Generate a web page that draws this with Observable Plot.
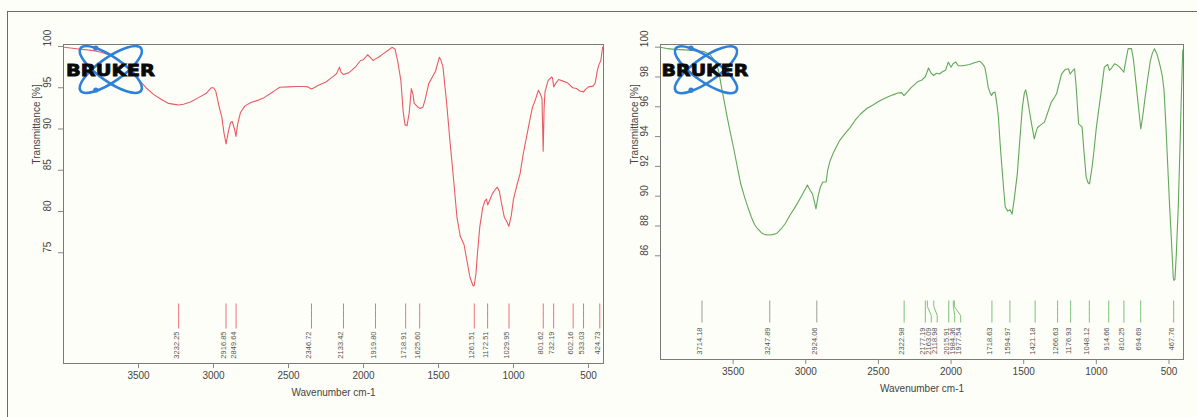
<!DOCTYPE html>
<html><head><meta charset="utf-8">
<script src="https://cdn.jsdelivr.net/npm/d3@7"></script>
<script src="https://cdn.jsdelivr.net/npm/@observablehq/plot@0.6"></script>
<style>
html,body{margin:0;padding:0;background:#fefef8;}
#page{position:relative;width:1197px;height:417px;overflow:hidden;background:#fefef8;font-family:"Liberation Sans",Arial,sans-serif;}
#border{position:absolute;left:7px;top:11px;width:1200px;height:420px;border-top:1px solid #6b6b6b;border-left:1px solid #6b6b6b;}
#left{position:absolute;left:0;top:0;}
#right{position:absolute;left:620px;top:0;}
#logos{position:absolute;left:0;top:0;pointer-events:none;}
</style></head><body>
<div id="page"><div id="border"></div><div id="left"></div><div id="right"></div>
<svg id="logos" width="1197" height="417"></svg></div>
<script>
// ---------- data ----------
const xTicks = [3500, 3000, 2500, 2000, 1500, 1000, 500];
const leftYTicks = [75, 80, 85, 90, 95, 100];
const rightYTicks = [86, 88, 90, 92, 94, 96, 98, 100];
const xLabel = "Wavenumber cm-1";
const yLabel = "Transmittance [%]";

const leftWavenumber = [3995,3900,3800,3750,3700,3650,3600,3550,3500,3450,3400,3350,3300,3250,3232,3200,3150,3100,3050,3014,3000,2985,2960,2945,2930,2916,2900,2886,2875,2860,2850,2840,2820,2790,2750,2700,2663,2620,2580,2558,2500,2450,2400,2370,2347,2330,2300,2250,2200,2180,2160,2150,2133,2100,2079,2050,2020,2000,1973,1950,1935,1920,1900,1870,1830,1810,1790,1770,1751,1735,1723,1710,1695,1681,1670,1662,1640,1625,1605,1590,1565,1541,1520,1494,1485,1470,1445,1424,1400,1377,1355,1330,1310,1290,1270,1262,1250,1240,1225,1205,1190,1180,1172,1160,1140,1120,1108,1095,1080,1061,1045,1031,1015,1000,980,956,935,909,890,874,855,834,820,810,802,796,790,769,745,740,732,720,699,670,640,605,580,558,533,520,500,470,455,441,430,418,406,400];
const leftTransmittance = [99.9,99.7,99.5,99.3,99.0,98.6,97.9,97.0,96.0,95.0,94.2,93.6,93.1,92.95,92.9,93.0,93.3,93.8,94.3,95.0,95.0,94.6,92.5,91.5,89.5,88.2,89.8,90.8,90.9,90.0,89.1,90.5,92.0,92.8,93.2,93.5,93.8,94.3,94.8,95.05,95.1,95.15,95.15,95.1,94.85,95.0,95.3,95.7,96.4,96.7,97.5,96.9,96.6,96.8,97.1,97.6,98.3,98.4,99.0,98.6,98.3,98.5,98.7,99.1,99.6,99.9,99.7,98.0,95.9,92.0,90.5,90.4,92.0,94.9,94.2,93.1,92.7,92.5,92.6,93.5,95.5,96.3,97.0,98.7,98.4,97.5,93.0,88.6,84.0,79.3,77.0,76.0,74.0,72.0,71.0,71.0,72.5,75.0,78.1,80.5,81.3,81.5,80.8,81.3,82.2,82.7,82.95,82.5,81.0,79.3,78.8,78.2,79.5,81.5,83.0,84.6,87.0,89.4,91.2,92.6,93.5,94.7,94.2,93.7,87.3,92.5,94.5,95.9,96.3,96.2,95.1,95.5,96.0,95.8,95.6,95.0,94.9,94.6,94.5,94.8,95.1,95.2,95.6,97.1,97.8,98.3,99.9,100.0];

const rightWavenumber = [4000,3950,3900,3800,3700,3658,3620,3600,3576,3560,3541,3520,3494,3470,3447,3420,3400,3375,3353,3330,3306,3280,3259,3230,3200,3170,3142,3110,3071,3030,2989,2970,2954,2940,2930,2915,2900,2883,2860,2850,2835,2813,2790,2766,2730,2695,2660,2625,2578,2540,2508,2470,2437,2400,2367,2340,2324,2300,2273,2250,2226,2200,2179,2170,2155,2140,2120,2100,2080,2060,2038,2019,2000,1985,1967,1950,1920,1873,1840,1803,1785,1768,1755,1744,1730,1721,1710,1697,1685,1674,1662,1650,1638,1627,1610,1595,1580,1565,1544,1525,1509,1496,1486,1475,1462,1445,1427,1415,1404,1380,1357,1335,1310,1290,1274,1260,1239,1215,1192,1180,1165,1150,1140,1122,1098,1085,1070,1057,1047,1030,1016,1000,981,960,945,922,910,895,875,857,840,825,811,795,781,758,745,735,722,708,694,680,664,645,628,614,600,585,570,555,545,534,520,511,497,483,470,466,459,450,436,425,417,410,405];
const rightTransmittance = [100.0,99.9,99.85,99.8,99.7,99.5,99.0,98.4,97.1,96.3,95.3,94.3,93.1,91.9,90.8,89.9,89.3,88.6,88.1,87.8,87.55,87.42,87.4,87.42,87.5,87.8,88.15,88.7,89.3,90.0,90.75,90.4,90.15,89.6,89.15,90.0,90.6,90.95,90.95,91.7,92.3,92.85,93.3,93.75,94.2,94.6,95.1,95.5,95.9,96.1,96.3,96.5,96.65,96.8,96.92,96.95,96.75,97.0,97.3,97.5,97.7,97.8,98.0,98.2,98.6,98.3,98.1,98.25,98.2,98.35,98.45,99.0,98.65,98.9,99.0,98.75,98.75,98.84,98.95,99.06,98.9,98.66,98.0,97.3,96.9,96.76,96.95,96.98,96.2,95.3,93.5,91.95,90.5,89.27,89.0,89.1,88.8,89.8,91.5,94.0,95.98,96.9,97.14,96.6,95.8,94.8,93.85,94.3,94.63,94.8,94.97,95.6,96.31,96.6,96.87,97.4,98.21,98.5,98.55,98.2,98.4,98.55,97.5,94.86,94.63,93.0,91.28,90.9,90.83,91.9,93.07,94.6,95.98,97.5,98.66,98.84,98.44,98.6,98.88,98.8,98.66,98.5,98.32,99.2,99.9,99.9,99.2,98.3,97.1,95.8,94.52,95.4,96.65,98.0,99.1,99.6,99.9,99.6,99.1,98.5,98.0,97.1,94.5,92.6,89.6,87.0,84.5,84.35,84.4,86.0,89.3,93.0,96.0,98.3,99.8];

const leftPeakLabels = ["3232.25","2916.85","2849.64","2346.72","2133.42","1919.80","1718.91","1625.60","1261.51","1172.51","1029.95","801.62","732.19","602.16","533.03","424.73"];
const rightPeakLabels = ["3714.18","3247.89","2924.06","2322.98","2177.19","2163.09","2118.98","2015.91","1984.36","1977.54","1718.63","1594.97","1421.18","1266.63","1176.93","1048.12","914.66","810.25","694.69","467.76"];
const rightGrayPeaks = ["3714.18","3247.89","2924.06"];

// ---------- helpers ----------
const toRows = (ws, ts) => ws.map((w, i) => ({w, t: ts[i]}));
function spread(values, gap) {
  const out = []; let last = Infinity;
  for (const v of values) { const p = Math.min(v, last - gap); out.push(p); last = p; }
  return out;
}
function yAt(px, cfg) {
  const [lo, hi] = cfg.yDomain;
  return hi - (px - cfg.mt) / (cfg.height - cfg.mt - cfg.mb) * (hi - lo);
}

function panel(cfg) {
  const data = toRows(cfg.ws, cfg.ts);
  const peaks = cfg.peakLabels.map(s => ({w: +s, label: s}));
  const lx = spread(peaks.map(d => d.w), cfg.gap);
  peaks.forEach((d, i) => { d.lx = lx[i]; d.color = cfg.peakColor(d.label); });
  const frameBottom = cfg.height - cfg.mb;
  return Plot.plot({
    width: cfg.width, height: cfg.height,
    marginLeft: cfg.ml, marginRight: cfg.mr, marginTop: cfg.mt, marginBottom: cfg.mb,
    x: {domain: [4000, 400], axis: null},
    y: {domain: cfg.yDomain, axis: null},
    style: {background: "transparent", color: "#444", fontFamily: "'Liberation Sans', Arial, sans-serif", fontSize: "10px", overflow: "visible"},
    marks: [
      Plot.frame({stroke: "#7a7a7a"}),
      Plot.axisX({ticks: xTicks, tickSize: 5, tickPadding: 3, tickFormat: d => String(d), label: null, fontSize: 10, stroke: "#888"}),
      Plot.axisY({ticks: cfg.yTicks, tickSize: 5, tickFormat: () => "", label: null, stroke: "#888"}),
      Plot.text(cfg.yTicks, {y: d => d, text: d => String(d), frameAnchor: "left", dx: -16, rotate: -90, fontSize: 10, fill: "#444"}),
      Plot.text([yLabel], {text: d => d, frameAnchor: "top-left", dx: cfg.yLabelDx, dy: 120, rotate: -90, fontSize: 10, fill: "#444"}),
      Plot.text([xLabel], {text: d => d, frameAnchor: "bottom", dy: 32, fontSize: 10, fill: "#444"}),
      // peak markers
      Plot.link(peaks, {x1: "w", x2: "w", y1: () => yAt(cfg.pTop, cfg), y2: () => yAt(cfg.pA, cfg), stroke: "color", strokeWidth: 1}),
      Plot.link(peaks, {x1: "w", x2: "lx", y1: () => yAt(cfg.pA, cfg), y2: () => yAt(cfg.pB, cfg), stroke: "color", strokeWidth: 1}),
      Plot.link(peaks, {x1: "lx", x2: "lx", y1: () => yAt(cfg.pB, cfg), y2: () => yAt(cfg.pBottom, cfg), stroke: "color", strokeWidth: 1}),
      Plot.text(peaks, {x: "lx", text: "label", frameAnchor: "bottom", dy: -(frameBottom - cfg.labelTop), rotate: -90, textAnchor: "end", fontSize: 7.5, fill: "#555"}),
      // spectrum
      Plot.line(data, {x: "w", y: "t", stroke: cfg.color, strokeWidth: 1.1})
    ]
  });
}

const leftCfg = {width: 620, height: 417, ml: 63, mr: 17, mt: 44, mb: 54, yDomain: [61.58, 100.24],
  ws: leftWavenumber, ts: leftTransmittance, yTicks: leftYTicks, peakLabels: leftPeakLabels,
  peakColor: () => "#ec6f7c", color: "#ea5a64", gap: 30, yLabelDx: -31,
  pTop: 303, pA: 310, pB: 318, pBottom: 328, labelTop: 331};
const rightCfg = {width: 577, height: 417, ml: 40, mr: 14, mt: 44, mb: 58, yDomain: [79.04, 100.18],
  ws: rightWavenumber, ts: rightTransmittance, yTicks: rightYTicks, peakLabels: rightPeakLabels,
  peakColor: s => rightGrayPeaks.includes(s) ? "#9a9a9a" : "#7cc07a", color: "#62a85c", gap: 41, yLabelDx: -30,
  pTop: 300, pA: 306, pB: 315, pBottom: 322, labelTop: 327};

document.getElementById("left").appendChild(panel(leftCfg));
document.getElementById("right").appendChild(panel(rightCfg));

// ---------- BRUKER logos (decoration) ----------
const logos = d3.select("#logos");
[[110.8, 69.5, 66, 89], [706, 69.7, 661.5, 87]].forEach(([cx, cy, tx, tw]) => {
  const g = logos.append("g");
  [35, -35].forEach(a => g.append("ellipse").attr("cx", cx).attr("cy", cy).attr("rx", 37).attr("ry", 12)
    .attr("transform", `rotate(${a},${cx},${cy})`).attr("fill", "none").attr("stroke", "#2f80d8").attr("stroke-width", 2.6));
  g.append("circle").attr("cx", cx - 15).attr("cy", cy - 21.5).attr("r", 2.6).attr("fill", "#2f80d8");
  g.append("circle").attr("cx", cx - 15).attr("cy", cy + 20.5).attr("r", 2.6).attr("fill", "#2f80d8");
  g.append("text").attr("x", tx).attr("y", 75.5).attr("textLength", tw).attr("lengthAdjust", "spacingAndGlyphs")
    .attr("font-family", "'DejaVu Sans', sans-serif").attr("font-weight", 900).attr("font-size", 16.5)
    .attr("fill", "#0a0a0a").attr("stroke", "#0a0a0a").attr("stroke-width", 0.8).text("BRUKER");
});
</script>
</body></html>
